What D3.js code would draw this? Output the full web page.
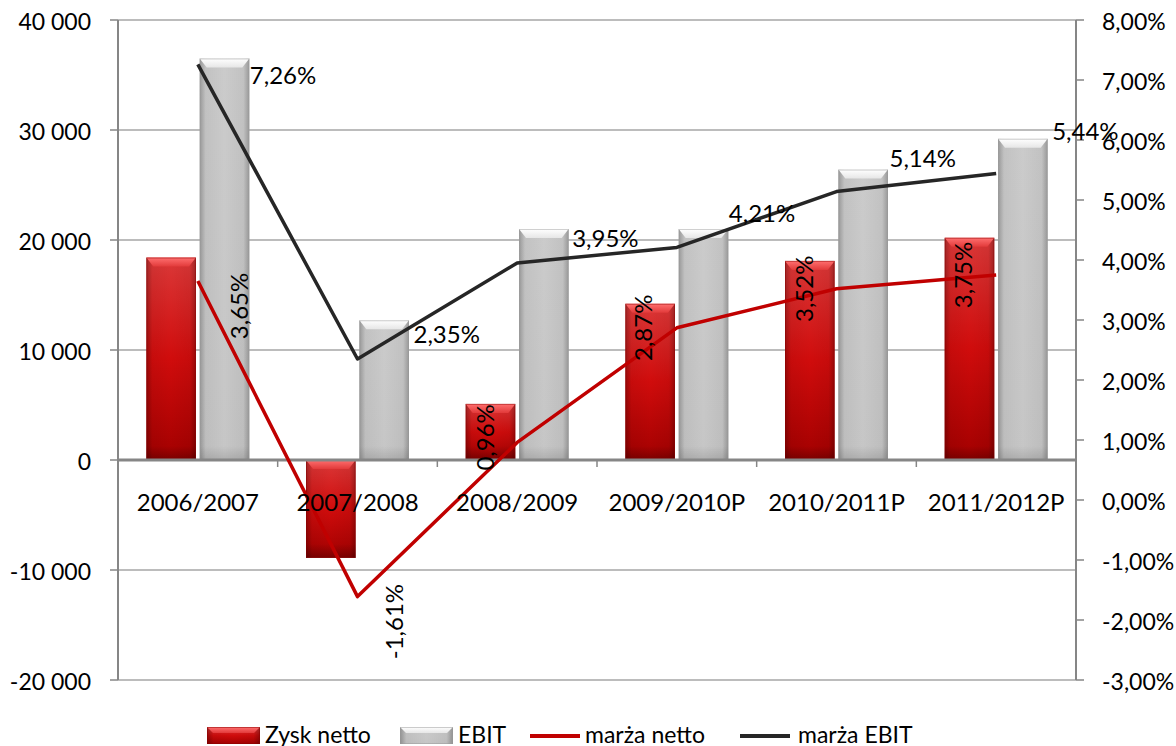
<!DOCTYPE html>
<html>
<head>
<meta charset="utf-8">
<script src="https://cdn.jsdelivr.net/npm/d3@7/dist/d3.min.js"></script>
<style>
  html, body { margin: 0; padding: 0; background: #fff; }
  svg { display: block; font-family: Lato, "Open Sans", sans-serif; }
</style>
</head>
<body>
<svg id="chart" width="1176" height="746"></svg>
<script>
// ---------- data ----------
const categories = ["2006/2007", "2007/2008", "2008/2009", "2009/2010P", "2010/2011P", "2011/2012P"];
const zyskNetto = [18400, -8900, 5100, 14200, 18100, 20200];
const ebit = [36500, 12700, 21000, 21000, 26400, 29200];
const marzaNetto = [3.65, -1.61, 0.96, 2.87, 3.52, 3.75];
const marzaEbit = [7.26, 2.35, 3.95, 4.21, 5.14, 5.44];
const leftTicks = [-20000, -10000, 0, 10000, 20000, 30000, 40000];
const rightTicks = [-3, -2, -1, 0, 1, 2, 3, 4, 5, 6, 7, 8];
const seriesNames = ["Zysk netto", "EBIT", "marża netto", "marża EBIT"];

// ---------- label placement (style) ----------
const ebitLabelOffsets = [[52, 20], [56, -16], [55, -16], [52, -25], [53, -25], [56, -34]];
const nettoLabelOffsets = [[42, 25], [37, 25], [-32, -5], [-33, 0], [-32, 0], [-33, 0]];

// ---------- layout ----------
const L = 118, R = 1076, T = 20, B = 680;
const svg = d3.select("#chart");
const fmtThousands = v => {
  const s = Math.abs(v).toString().replace(/\B(?=(\d{3})+(?!\d))/g, " ");
  return (v < 0 ? "-" : "") + s;
};
const fmtPct = v => v.toFixed(2).replace(".", ",") + "%";

const x = d3.scaleBand().domain(categories).range([L, R]).padding(0);
const sub = d3.scaleBand().domain(["n", "e"]).range([0, 103]).paddingInner(0.07);
const yL = d3.scaleLinear().domain([-20000, 40000]).range([B, T]);
const yR = d3.scaleLinear().domain([-3, 8]).range([B, T]);
const groupOffset = (x.bandwidth() - 103) / 2;

// ---------- gradients ----------
const defs = svg.append("defs");
function vGrad(id, stops) {
  const g = defs.append("linearGradient").attr("id", id).attr("x1", 0).attr("y1", 0).attr("x2", 0).attr("y2", 1);
  stops.forEach(s => g.append("stop").attr("offset", s[0]).attr("stop-color", s[1]).attr("stop-opacity", s[2] === undefined ? 1 : s[2]));
}
function hGrad(id, stops) {
  const g = defs.append("linearGradient").attr("id", id).attr("x1", 0).attr("y1", 0).attr("x2", 1).attr("y2", 0);
  stops.forEach(s => g.append("stop").attr("offset", s[0]).attr("stop-color", s[1]).attr("stop-opacity", s[2] === undefined ? 1 : s[2]));
}
vGrad("redBody", [[0, "#db3838"], [0.5, "#d00c0c"], [1, "#a30000"]]);
hGrad("edgeShade", [[0, "#000", 0.28], [0.12, "#000", 0.05], [0.5, "#000", 0], [0.88, "#000", 0.05], [1, "#000", 0.28]]);
vGrad("greyBody", [[0, "#cbcbcb"], [1, "#c6c6c6"]]);
vGrad("redTop", [[0, "#ff7070"], [1, "#e23a3a"]]);
vGrad("greyTop", [[0, "#ffffff"], [1, "#e6e6e6"]]);
vGrad("redBottom", [[0, "#000", 0], [1, "#000", 0.25]]);
vGrad("greyBottom", [[0, "#000", 0], [1, "#000", 0.12]]);

// ---------- gridlines ----------
svg.append("g").selectAll("line").data(leftTicks).join("line")
  .attr("x1", L).attr("x2", R)
  .attr("y1", d => yL(d)).attr("y2", d => yL(d))
  .attr("stroke", "#a6a6a6").attr("stroke-width", 1.5);

// ---------- bars ----------
function drawBar(g, x0, w, v, kind) {
  const y0 = yL(0), y1 = yL(v);
  const top = Math.min(y0, y1), h = Math.abs(y1 - y0);
  const isRed = kind === "n";
  g.append("rect").attr("x", x0).attr("y", top).attr("width", w).attr("height", h)
    .attr("fill", isRed ? "url(#redBody)" : "url(#greyBody)");
  g.append("rect").attr("x", x0).attr("y", top).attr("width", w).attr("height", h)
    .attr("fill", "url(#edgeShade)").attr("opacity", isRed ? 1 : 0.9);
  g.append("rect").attr("x", x0).attr("y", top + h - Math.min(14, h / 3)).attr("width", w).attr("height", Math.min(14, h / 3))
    .attr("fill", isRed ? "url(#redBottom)" : "url(#greyBottom)");
  const bh = Math.min(9, h / 3);
  g.append("path")
    .attr("d", `M${x0},${top} L${x0 + w},${top} L${x0 + w - 7},${top + bh} L${x0 + 7},${top + bh} Z`)
    .attr("fill", isRed ? "url(#redTop)" : "url(#greyTop)");
  g.append("rect").attr("x", x0 + 0.5).attr("y", top + 0.5).attr("width", w - 1).attr("height", Math.max(0, h - 1))
    .attr("fill", "none").attr("stroke", isRed ? "#8a0000" : "#999").attr("stroke-opacity", 0.45).attr("stroke-width", 1);
}
const barsG = svg.append("g");
categories.forEach((c, i) => {
  const gx = x(c) + groupOffset;
  drawBar(barsG, gx + sub("n"), sub.bandwidth(), zyskNetto[i], "n");
  drawBar(barsG, gx + sub("e"), sub.bandwidth(), ebit[i], "e");
});

// ---------- axes ----------
const axG = svg.append("g").attr("stroke", "#868686");
axG.append("line").attr("x1", L).attr("x2", L).attr("y1", T).attr("y2", B).attr("stroke-width", 2);
axG.append("line").attr("x1", R).attr("x2", R).attr("y1", T).attr("y2", B).attr("stroke-width", 2);
axG.append("line").attr("x1", L).attr("x2", R).attr("y1", yL(0)).attr("y2", yL(0)).attr("stroke-width", 3);
axG.selectAll(".lt").data(leftTicks).join("line").attr("class", "lt")
  .attr("x1", L - 8).attr("x2", L).attr("y1", d => yL(d)).attr("y2", d => yL(d)).attr("stroke-width", 1.5);
axG.selectAll(".rt").data(rightTicks).join("line").attr("class", "rt")
  .attr("x1", R).attr("x2", R + 8).attr("y1", d => yR(d)).attr("y2", d => yR(d)).attr("stroke-width", 1.5);
const catBounds = categories.map(c => x(c)).concat([R]);
axG.selectAll(".ct").data(catBounds).join("line").attr("class", "ct")
  .attr("x1", d => d).attr("x2", d => d).attr("y1", yL(0)).attr("y2", yL(0) + 7).attr("stroke-width", 1.5);

svg.append("g").selectAll("text").data(leftTicks).join("text")
  .attr("x", 91).attr("y", d => yL(d) + 10).attr("text-anchor", "end")
  .attr("font-size", 23).attr("fill", "#000").text(fmtThousands);
svg.append("g").selectAll("text").data(rightTicks).join("text")
  .attr("x", 1102).attr("y", d => yR(d) + 10).attr("text-anchor", "start")
  .attr("font-size", 23).attr("fill", "#000").text(fmtPct);

// ---------- lines ----------
const cx = c => x(c) + x.bandwidth() / 2;
const lineGen = d3.line().x(d => cx(d[0])).y(d => yR(d[1]));
svg.append("path").datum(categories.map((c, i) => [c, marzaNetto[i]]))
  .attr("d", lineGen).attr("fill", "none").attr("stroke", "#c00000").attr("stroke-width", 3.5).attr("stroke-linejoin", "round");
svg.append("path").datum(categories.map((c, i) => [c, marzaEbit[i]]))
  .attr("d", lineGen).attr("fill", "none").attr("stroke", "#262626").attr("stroke-width", 3.5).attr("stroke-linejoin", "round");

// ---------- category labels ----------
svg.append("g").selectAll("text").data(categories).join("text")
  .attr("x", d => cx(d)).attr("y", 511).attr("text-anchor", "middle")
  .attr("font-size", 24).attr("fill", "#000").text(d => d);

// ---------- data labels ----------
svg.append("g").selectAll("text").data(marzaEbit).join("text")
  .attr("x", (d, i) => cx(categories[i]) + ebitLabelOffsets[i][0])
  .attr("y", (d, i) => yR(d) + ebitLabelOffsets[i][1])
  .attr("font-size", 24).attr("fill", "#000").text(fmtPct);
svg.append("g").selectAll("text").data(marzaNetto).join("text")
  .attr("transform", (d, i) => `translate(${cx(categories[i]) + nettoLabelOffsets[i][0]},${yR(d) + nettoLabelOffsets[i][1]}) rotate(-90)`)
  .attr("text-anchor", "middle").attr("dy", "0.35em")
  .attr("font-size", 24).attr("fill", "#000").text(fmtPct);

// ---------- legend ----------
const lg = svg.append("g");
const legendItems = [
  { name: seriesNames[0], type: "n", sx: 207, tx: 265 },
  { name: seriesNames[1], type: "e", sx: 400, tx: 458 },
  { name: seriesNames[2], type: "ln", sx: 530, tx: 585, color: "#c00000" },
  { name: seriesNames[3], type: "le", sx: 740, tx: 798, color: "#262626" }
];
legendItems.forEach(it => {
  if (it.type === "n" || it.type === "e") {
    const isRed = it.type === "n";
    lg.append("rect").attr("x", it.sx).attr("y", 727).attr("width", 53).attr("height", 17)
      .attr("fill", isRed ? "url(#redBody)" : "url(#greyBody)");
    lg.append("rect").attr("x", it.sx).attr("y", 727).attr("width", 53).attr("height", 17)
      .attr("fill", "url(#edgeShade)");
    lg.append("path").attr("d", `M${it.sx},727 L${it.sx + 53},727 L${it.sx + 47},733 L${it.sx + 6},733 Z`)
      .attr("fill", isRed ? "url(#redTop)" : "url(#greyTop)");
    lg.append("rect").attr("x", it.sx + 0.5).attr("y", 727.5).attr("width", 52).attr("height", 16)
      .attr("fill", "none").attr("stroke", isRed ? "#8a0000" : "#999").attr("stroke-opacity", 0.5);
  } else {
    lg.append("line").attr("x1", it.sx).attr("x2", it.sx + 50).attr("y1", 736).attr("y2", 736)
      .attr("stroke", it.color).attr("stroke-width", 4);
  }
  lg.append("text").attr("x", it.tx).attr("y", 743).attr("font-size", 23).attr("fill", "#000").text(it.name);
});
</script>
</body>
</html>
